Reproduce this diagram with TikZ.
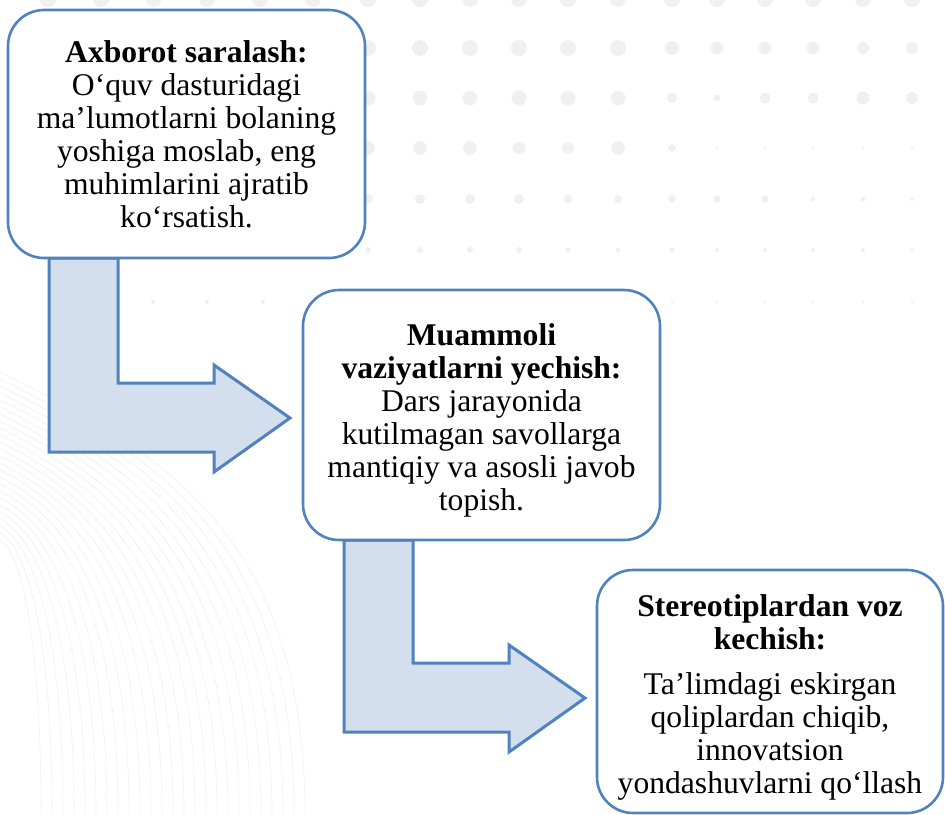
\documentclass[tikz,border=0pt]{standalone}
\usepackage{fontspec}
\setmainfont{Liberation Serif}
\usetikzlibrary{backgrounds}
\definecolor{bord}{RGB}{80,130,190}
\definecolor{afill}{RGB}{211,223,238}
\definecolor{dotc}{RGB}{240,240,240}
\definecolor{curvc}{RGB}{239,239,239}
\tikzset{
  card/.style={draw=bord, line width=2.6pt, fill=white, rounded corners=36pt, inner sep=0pt},
  cardtext/.style={align=center, inner sep=0pt, font=\fontsize{31.6}{33}\selectfont},
  blockarrow/.style={draw=bord, fill=afill, line width=3pt, line join=miter},
  bgcurve/.style={draw=curvc, line width=0.6pt},
  bgdot/.style={fill=dotc},
}
\begin{document}
\begin{tikzpicture}[x=1pt,y=-1pt]
\useasboundingbox (0,0) rectangle (945,814);
\clip (0,0) rectangle (945,814);

% boxes
\node[card, minimum width=357pt, minimum height=248pt] (b1) at (186.5,134) {};
\node[card, minimum width=357pt, minimum height=250pt] (b2) at (481.5,415) {};
\node[card, minimum width=346pt, minimum height=243pt] (b3) at (770,691.5) {};

\begin{pgfonlayer}{background}
  % faint curved lines
  \foreach \i in {0,...,24}{
    \pgfmathsetmacro\yo{372+7*\i}
    \pgfmathsetmacro\xe{305-11*\i}
    \draw[bgcurve] (0,\yo) .. controls ({0.5*\xe},{\yo+0.25*\xe}) and (\xe,{\yo+0.35*(814-\yo)}) .. (\xe,814);
  }
  % faint dots
  \foreach \x in {48,101,154,207,260,313,368,420,470,519,568,618,672,717,765,813,863,912}
    \fill[bgdot] (\x,-1) circle (8pt);
  \foreach \x/\r in {368/8,420/8,470/8,519/8,568/8,618/8,672/7,717/6.5,765/6.5,813/6.5,863/6,912/6}
    \fill[bgdot] (\x,48) circle (\r pt);
  \foreach \x/\r in {368/7.5,420/7.5,470/7.5,519/7.5,568/7.5,618/7.5,672/5,717/3.5,765/5.5,813/5.5,863/6.5,912/6}
    \fill[bgdot] (\x,98) circle (\r pt);
  \foreach \x/\r in {368/7,420/7,470/7,519/6.5,568/6,618/7,672/4,717/1.5,765/1.5,813/1.5,863/1.5,912/1.5}
    \fill[bgdot] (\x,148) circle (\r pt);
  \foreach \x/\r in {368/5,420/5,470/5,519/5,568/4.5,618/4,672/4,717/3.5,765/3.5,813/2.5,863/2.5,912/2}
    \fill[bgdot] (\x,199) circle (\r pt);
  \foreach \x/\r in {368/3,420/3,470/3,519/3,568/2.5,618/2.5,672/2.5,717/2,765/2,813/2,863/2,912/2}
    \fill[bgdot] (\x,250) circle (\r pt);
  \foreach \x/\r in {153/2,207/2,263/2,672/1.5,717/1.5,765/1.5,813/1.5,863/1.5,912/1.5}
    \fill[bgdot] (\x,302) circle (\r pt);

  % bent block arrows
  \draw[blockarrow] (49,258) -- (118,258) -- (118,383) -- (214,383) -- (214,365)
        -- (290,418) -- (214,472) -- (214,452) -- (49,452) -- cycle;
  \draw[blockarrow] (344,540) -- (413,540) -- (413,663) -- (509,663) -- (509,645)
        -- (585,698) -- (509,752) -- (509,732) -- (344,732) -- cycle;
\end{pgfonlayer}

% texts
\node[cardtext] (t1) at (186.5,134.5) {\textbf{Axborot saralash:}\\O‘quv dasturidagi\\ma’lumotlarni bolaning\\yoshiga moslab, eng\\muhimlarini ajratib\\ko‘rsatish.};
\node[cardtext] (t2) at (481.5,420) {\textbf{Muammoli}\\\textbf{vaziyatlarni yechish:}\\Dars jarayonida\\kutilmagan savollarga\\mantiqiy va asosli javob\\topish.};
\node[cardtext] (t3) at (770,697) {\textbf{Stereotiplardan voz}\\\textbf{kechish:}\\[12pt]Ta’limdagi eskirgan\\qoliplardan chiqib,\\innovatsion\\yondashuvlarni qo‘llash};
\end{tikzpicture}
\end{document}
